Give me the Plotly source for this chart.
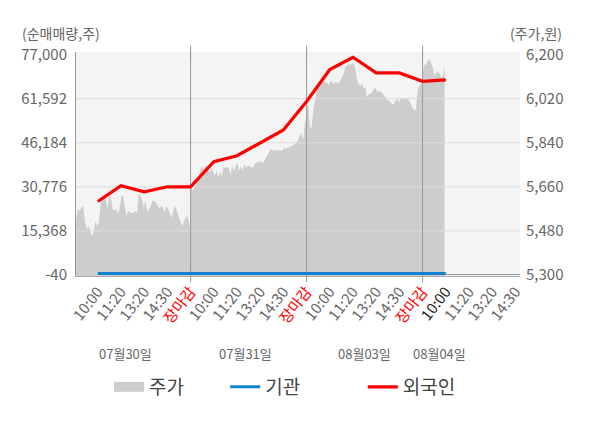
import plotly.graph_objects as go

# x axis slots: each trading day is 5 slots wide (10:00, 11:20, 13:20, 14:30, close)
tick_pos = [1, 2, 3, 4, 5, 6, 7, 8, 9, 10, 11, 12, 13, 14, 15, 16, 17, 18, 19]
tick_labels = ["10:00", "11:20", "13:20", "14:30", "장마감",
               "10:00", "11:20", "13:20", "14:30", "장마감",
               "10:00", "11:20", "13:20", "14:30", "장마감",
               "10:00", "11:20", "13:20", "14:30"]
close_label = "장마감"
current_label_idx = 15

day_bounds = [5, 10, 15]
day_names = ["07월30일", "07월31일", "08월03일", "08월04일"]
day_name_pos = [2.2, 7.35, 12.5, 15.75]
# slot span covered by each day's price ticks
day_spans = [(0, 5), (5, 10), (10, 15), (15, 15.95)]

# 주가 (원)
price_0730 = [5419, 5534, 5570, 5562, 5575, 5582, 5514, 5488, 5500, 5480, 5460, 5473,
              5521, 5500, 5514, 5590, 5611, 5616, 5611, 5570, 5623, 5611, 5570, 5562,
              5570, 5550, 5570, 5623, 5623, 5582, 5541, 5562, 5555, 5555, 5550, 5562,
              5555, 5631, 5623, 5603, 5575, 5603, 5555, 5570, 5582, 5603, 5603, 5596,
              5582, 5570, 5582, 5575, 5555, 5582, 5570, 5550, 5534, 5562, 5582, 5562,
              5541, 5521, 5500, 5514, 5534, 5541, 5521, 5473]
price_0731 = [5657, 5644, 5651, 5664, 5685, 5705, 5739, 5739, 5734, 5746, 5734, 5718,
              5739, 5725, 5705, 5725, 5698, 5718, 5705, 5739, 5739, 5739, 5739, 5705,
              5746, 5725, 5739, 5759, 5725, 5746, 5725, 5753, 5739, 5746, 5746, 5739,
              5739, 5753, 5759, 5759, 5766, 5759, 5759, 5773, 5787, 5800, 5810, 5814,
              5807, 5810, 5810, 5807, 5810, 5807, 5821, 5814, 5821, 5821, 5828, 5828,
              5835, 5841, 5848, 5869, 5882, 5848, 5916, 5943]
price_0803 = [5991, 5991, 5902, 5902, 5978, 6012, 6053, 6066, 6080, 6087, 6093, 6087,
              6087, 6073, 6087, 6093, 6080, 6087, 6087, 6080, 6093, 6107, 6121, 6148,
              6155, 6162, 6155, 6164, 6162, 6141, 6100, 6080, 6073, 6080, 6060, 6066,
              6025, 6039, 6039, 6046, 6060, 6066, 6046, 6053, 6046, 6046, 6032, 6025,
              6012, 6012, 6005, 5998, 5998, 6012, 6019, 6005, 6019, 6025, 6019, 6025,
              6019, 6012, 5998, 5984, 5971, 5978, 6053, 6073, 6080, 6087]
price_0804 = [6127, 6162, 6155, 6175, 6182, 6168, 6148, 6114, 6127, 6134, 6121, 6107,
              6114, 6151]
price_days = [price_0730, price_0731, price_0803, price_0804]

# 순매매량 (주), one value per slot from 07/30 10:00 to 08/04 10:00
flow_slots = [1, 2, 3, 4, 5, 6, 7, 8, 9, 10, 11, 12, 13, 14, 15, 16]
institution_net = [450, 450, 450, 450, 450, 450, 450, 450, 450, 450, 450, 450, 450, 450, 450, 450]
foreign_net = [25630, 31128, 29027, 30778, 30778, 39533, 41634, 46291, 50634, 60600,
               71751, 76058, 70595, 70595, 67654, 68144]

vol_ticks = [-40, 15368, 30776, 46184, 61592, 77000]
vol_tick_labels = ["-40", "15,368", "30,776", "46,184", "61,592", "77,000"]
price_ticks = [5300, 5480, 5660, 5840, 6020, 6200]
price_tick_labels = ["5,300", "5,480", "5,660", "5,840", "6,020", "6,200"]

x_range = [0.06, 19.2]
vol_range = [-400, 77900]
price_range = [5295.8, 6210.5]

FONT = "Noto Sans CJK KR"
GREY_TXT = "#666666"

# build the price series along the slot axis
price_x, price_y = [], []
for (start, end), vals in zip(day_spans, price_days):
    n = len(vals)
    for i, v in enumerate(vals):
        price_x.append(start + (end - start) * i / (n - 1))
        price_y.append(v)

fig = go.Figure()

fig.add_trace(go.Scatter(
    x=price_x, y=price_y, yaxis="y", mode="lines", fill="tozeroy",
    fillcolor="#cdcdcd", line=dict(color="#cdcdcd", width=0),
    name="주가", showlegend=False, hoverinfo="skip"))

# horizontal grid drawn over the area
gx, gy = [], []
for t in vol_ticks[1:-1]:
    gx += [x_range[0], x_range[1], None]
    gy += [t, t, None]
fig.add_trace(go.Scatter(x=gx, y=gy, yaxis="y2", mode="lines",
                         line=dict(color="#dddddd", width=1),
                         showlegend=False, hoverinfo="skip"))

# day separators
sx, sy = [], []
for b in day_bounds:
    sx += [b, b, None]
    sy += [vol_range[0], vol_range[1], None]
fig.add_trace(go.Scatter(x=sx, y=sy, yaxis="y2", mode="lines",
                         line=dict(color="#999999", width=1),
                         showlegend=False, hoverinfo="skip"))
fig.add_trace(go.Scatter(x=day_bounds + day_bounds,
                         y=[vol_range[0]] * len(day_bounds) + [vol_range[1]] * len(day_bounds),
                         yaxis="y2", mode="markers", cliponaxis=False,
                         marker=dict(symbol="line-ns", size=9,
                                     line=dict(color="#999999", width=1)),
                         showlegend=False, hoverinfo="skip"))

# legend key for the price area
fig.add_trace(go.Scatter(x=[None], y=[None], yaxis="y2", mode="lines",
                         line=dict(color="#cdcdcd", width=12),
                         name="주가", legend="legend"))

fig.add_trace(go.Scatter(x=flow_slots, y=institution_net, yaxis="y2", mode="lines",
                         line=dict(color="#1282d0", width=3),
                         name="기관", legend="legend2"))
fig.add_trace(go.Scatter(x=flow_slots, y=foreign_net, yaxis="y2", mode="lines",
                         line=dict(color="#ff0000", width=3.2),
                         name="외국인", legend="legend3"))

ticktext = []
for i, lab in enumerate(tick_labels):
    if lab == close_label:
        ticktext.append(f'<span style="color:#ff0000">{lab}</span>')
    elif i == current_label_idx:
        ticktext.append(f'<span style="color:#222222">{lab}</span>')
    else:
        ticktext.append(lab)

annotations = []
for name, pos in zip(day_names, day_name_pos):
    annotations.append(dict(x=pos, y=-0.344, xref="x", yref="paper", text=name,
                            xanchor="center", yanchor="middle",
                            showarrow=False, font=dict(size=13, color=GREY_TXT)))
annotations.append(dict(x=-0.034, y=1.085, xref="paper", yref="paper", text="(순매매량,주)",
                        xanchor="center", yanchor="middle",
                        showarrow=False, font=dict(size=14, color=GREY_TXT)))
annotations.append(dict(x=1.036, y=1.085, xref="paper", yref="paper", text="(주가,원)",
                        xanchor="center", yanchor="middle",
                        showarrow=False, font=dict(size=14, color=GREY_TXT)))

legend_common = dict(orientation="h", yanchor="middle", y=-0.4955, xanchor="left",
                     font=dict(size=19, color="#444444"), bgcolor="rgba(0,0,0,0)")

# the page body adds 8px around the figure, so the figure is 8px smaller each way
fig.update_layout(
    width=592, height=420,
    margin=dict(l=68, r=80, t=44, b=152),
    paper_bgcolor="white", plot_bgcolor="#f4f4f4",
    font=dict(family=FONT, color=GREY_TXT),
    xaxis=dict(range=x_range, tickmode="array", tickvals=tick_pos, ticktext=ticktext,
               tickangle=-52, tickfont=dict(size=15, color=GREY_TXT),
               showgrid=False, zeroline=False, showline=True, linecolor="#aaaaaa",
               ticks=""),
    yaxis=dict(side="right", range=price_range, tickmode="array",
               tickvals=price_ticks, ticktext=price_tick_labels,
               tickfont=dict(size=15, color=GREY_TXT), showgrid=False,
               zeroline=False, ticklabelstandoff=5),
    yaxis2=dict(side="left", overlaying="y", range=vol_range, tickmode="array",
                tickvals=vol_ticks, ticktext=vol_tick_labels,
                tickfont=dict(size=15, color=GREY_TXT), showgrid=False,
                zeroline=True, zerolinecolor="#999999", zerolinewidth=1,
                showline=True, linecolor="#999999", ticklabelstandoff=5),
    legend=dict(x=0.0743, **legend_common),
    legend2=dict(x=0.336, **legend_common),
    legend3=dict(x=0.646, **legend_common),
    annotations=annotations,
)

fig.write_html("out.html")
